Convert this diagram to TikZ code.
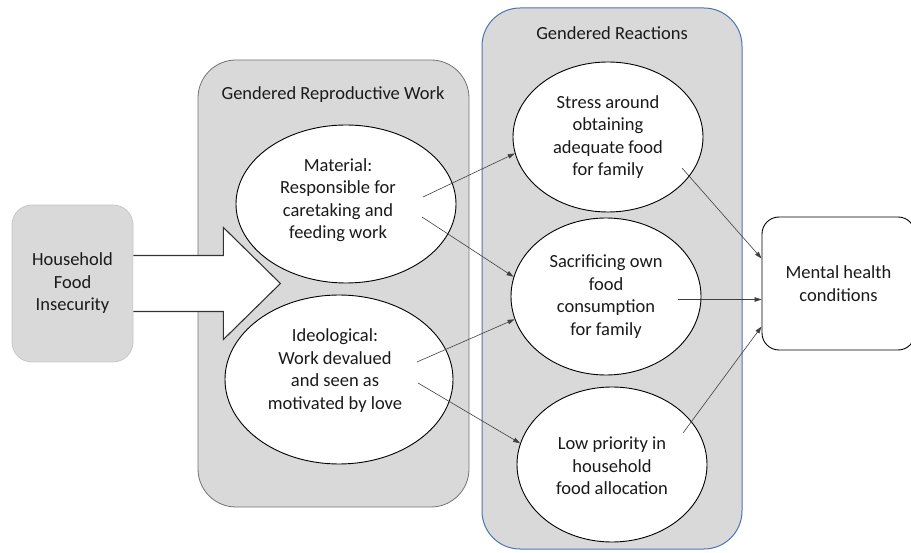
\documentclass[tikz,border=0pt]{standalone}
\usepackage{fontspec}
\setmainfont{Carlito}
\usetikzlibrary{shapes.geometric,arrows.meta,calc}
\definecolor{boxgray}{HTML}{D9D9D9}
\definecolor{panelblue}{HTML}{4F74B8}
\definecolor{txt}{HTML}{1A1A1A}
\tikzset{
  oval/.style={ellipse, draw=black, line width=0.9pt, fill=white, inner sep=0pt},
  lbl/.style={align=center, text=txt, inner sep=0pt},
  link/.style={draw=black!75, line width=0.6pt, -{Triangle[length=7pt,width=4.5pt]}},
  panel/.style={rectangle, rounded corners=38pt, fill=boxgray, inner sep=0pt},
  bigarrow/.style={draw=black!80, line width=1.1pt, line join=miter},
}
\begin{document}
\begin{tikzpicture}[x=1pt,y=-1pt,font=\fontsize{18.5}{22.5}\selectfont]
\clip (0,0) rectangle (911,553);
\fill[white] (0,0) rectangle (911,553);

% panels
\node[panel, draw=black!55, line width=0.8pt, minimum width=271pt, minimum height=447pt] (grw) at (333.5,283.5) {};
\node[lbl] (grwt) at (333,95) {Gendered Reproductive Work};
\node[panel, draw=panelblue, line width=1pt, minimum width=260pt, minimum height=541pt] (gr) at (612,278.5) {};
\node[lbl] (grt) at (612,33) {Gendered Reactions};

% household food insecurity
\node[rectangle, rounded corners=20pt, fill=boxgray, draw=black!22, line width=0.8pt,
      minimum width=121pt, minimum height=157pt, lbl] (hfi) at (72.5,283.5)
      {Household\\Food\\Insecurity};

% big arrow
\begin{scope}[shift={(hfi.east)}]
  \fill[white] (0,-28) -- (90,-28) -- (90,-56) -- (147,0) -- (90,56) -- (90,28) -- (0,28) -- cycle;
  \draw[bigarrow] (0,-28) -- (90,-28) -- (90,-56) -- (147,0) -- (90,56) -- (90,28) -- (0,28);
\end{scope}

% left ellipses
\node[oval, minimum width=220pt, minimum height=158pt] (mat) at (346,204) {};
\node[lbl] (matt) at (338,200) {Material:\\Responsible for\\caretaking and\\feeding work};
\node[oval, minimum width=228pt, minimum height=169pt] (ideo) at (339,379.5) {};
\node[lbl] (ideot) at (335,370.5) {Ideological:\\Work devalued\\and seen as\\motivated by love};

% right ellipses
\node[oval, minimum width=190pt, minimum height=150pt, lbl] (stress) at (608,137)
  {Stress around\\obtaining\\adequate food\\for family};
\node[oval, minimum width=190pt, minimum height=157pt, lbl] (sac) at (606,296.5)
  {Sacrificing own\\food\\consumption\\for family};
\node[oval, minimum width=190pt, minimum height=155pt] (low) at (612,464.5) {};
\node[lbl] (lowt) at (612,466) {Low priority in\\household\\food allocation};

% outcome
\node[rectangle, rounded corners=17pt, draw=black, line width=0.9pt, fill=white,
      minimum width=153pt, minimum height=133pt, lbl] (mental) at (838.5,283.5)
      {Mental health\\conditions};

% connector start points
\coordinate (a1) at (423,197);
\coordinate (a2) at (422,217);
\coordinate (a3) at (417,362);
\coordinate (a4) at (418,383);
\coordinate (a5) at (682,168);
\coordinate (a6) at (678,299.5);
\coordinate (a7) at (683,433);

\draw[link] (a1) -- (stress.190);
\draw[link] (a2) -- (sac.168);
\draw[link] (a3) -- (sac.194);
\draw[link] (a4) -- (low.167);
\draw[link] (a5) -- ([yshift=25pt]mental.west);
\draw[link] (a6) -- ([yshift=-16pt]mental.west);
\draw[link] (a7) -- ([yshift=-43pt]mental.west);
\end{tikzpicture}
\end{document}
